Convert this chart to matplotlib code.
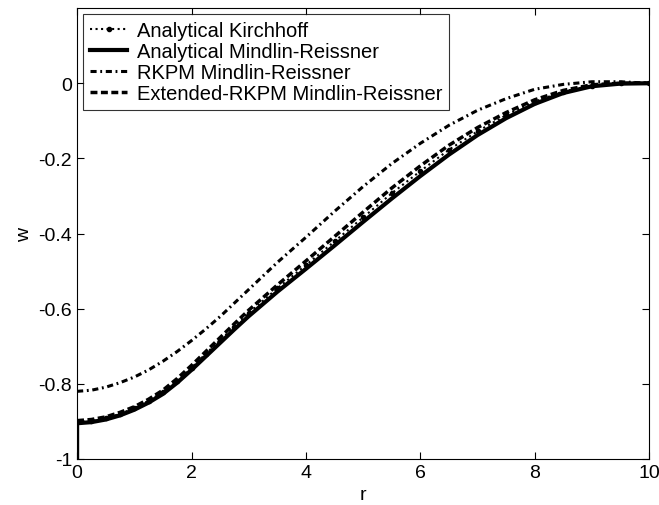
import matplotlib
matplotlib.use("Agg")
import matplotlib.pyplot as plt

plt.rcParams["font.family"] = ["Liberation Sans", "DejaVu Sans"]
plt.rcParams["axes.unicode_minus"] = False

# radius (r) and deflection (w)
r = [0, 0.25, 0.5, 0.75, 1, 1.25, 1.5, 1.75, 2, 2.25, 2.5, 2.75, 3, 3.5, 4, 4.5, 5,
     5.5, 6, 6.5, 7, 7.5, 8, 8.5, 9, 9.5, 10]

w_kirchhoff = [-0.902, -0.899, -0.892, -0.880, -0.865, -0.845, -0.822, -0.792, -0.757,
               -0.720, -0.684, -0.648, -0.612, -0.546, -0.484, -0.421, -0.357, -0.293,
               -0.234, -0.177, -0.128, -0.085, -0.049, -0.022, -0.006, 0.0, 0.0]
# analytical Mindlin-Reissner starts with a jump from -1 at r = 0
r_mindlin = [0] + r
w_mindlin = [-1.0, -0.905, -0.902, -0.895, -0.884, -0.869, -0.850, -0.827, -0.797, -0.763,
             -0.727, -0.691, -0.655, -0.620, -0.555, -0.494, -0.432, -0.369, -0.307,
             -0.247, -0.190, -0.138, -0.093, -0.055, -0.026, -0.008, -0.001, 0.0]
w_rkpm = [-0.820, -0.817, -0.809, -0.797, -0.782, -0.763, -0.740, -0.714, -0.685, -0.654,
          -0.621, -0.585, -0.549, -0.477, -0.410, -0.341, -0.275, -0.214, -0.160, -0.112,
          -0.072, -0.041, -0.016, -0.003, 0.004, 0.004, 0.0]
w_ext = [-0.898, -0.895, -0.888, -0.876, -0.861, -0.841, -0.817, -0.786, -0.751, -0.714,
         -0.677, -0.640, -0.604, -0.537, -0.473, -0.408, -0.343, -0.279, -0.220, -0.165,
         -0.118, -0.078, -0.044, -0.019, -0.004, 0.0, 0.0]

fig = plt.figure(figsize=(6.59, 5.06), dpi=100)
ax = fig.add_axes([0.117, 0.091, 0.868, 0.891])

ax.plot(r, w_kirchhoff, color="black", linestyle=":", marker=".", markersize=6,
        linewidth=1.5, label="Analytical Kirchhoff")
ax.plot(r_mindlin, w_mindlin, color="black", linestyle="-", linewidth=3,
        label="Analytical Mindlin-Reissner")
ax.plot(r, w_rkpm, color="black", linestyle=(0, (2, 1.2, 0.6, 1.2)), linewidth=2.2,
        label="RKPM Mindlin-Reissner")
ax.plot(r, w_ext, color="black", linestyle=(0, (2, 1)), linewidth=2.5,
        label="Extended-RKPM Mindlin-Reissner")

ax.set_xlim(0, 10)
ax.set_ylim(-1, 0.2)
ax.set_xticks([0, 2, 4, 6, 8, 10])
ax.set_yticks([-1, -0.8, -0.6, -0.4, -0.2, 0])
ax.set_yticklabels(["-1", "-0.8", "-0.6", "-0.4", "-0.2", "0"])
ax.tick_params(direction="in", top=True, right=True, labelsize=14, length=5)
ax.set_xlabel("r", fontsize=14)
ax.set_ylabel("w", fontsize=14)

leg = ax.legend(loc="upper left", fontsize=14.5, frameon=True, fancybox=False,
                edgecolor="black", handlelength=1.85, borderaxespad=0.3,
                labelspacing=0.1, borderpad=0.35, handletextpad=0.45, numpoints=1)
leg.get_frame().set_linewidth(0.8)

fig.savefig("out.png", dpi=100)
